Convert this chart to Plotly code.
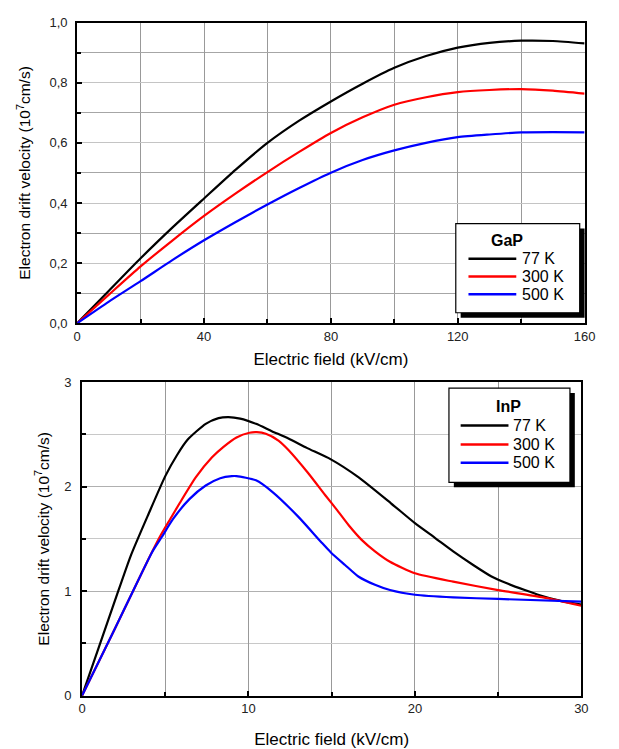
import plotly.graph_objects as go

# ---------------- data ----------------
temps = ["77 K", "300 K", "500 K"]
colors = ["#000000", "#ff0000", "#0000ff"]

# GaP (top panel)
gap_field = [0, 10, 20, 30, 40, 50, 60, 70, 80, 90, 100, 110, 120, 130, 140, 150, 160]
gap_77 = [0, 0.108, 0.216, 0.318, 0.415, 0.511, 0.600, 0.674, 0.738, 0.797, 0.850, 0.889, 0.917, 0.933, 0.940, 0.939, 0.931]
gap_300 = [0, 0.095, 0.189, 0.275, 0.357, 0.432, 0.503, 0.57, 0.633, 0.685, 0.727, 0.752, 0.769, 0.776, 0.779, 0.774, 0.764]
gap_500 = [0, 0.072, 0.14, 0.21, 0.276, 0.337, 0.395, 0.45, 0.501, 0.543, 0.575, 0.60, 0.619, 0.628, 0.635, 0.636, 0.635]

# InP (bottom panel)
inp_field_77 = [0, 1, 2, 2.93, 4, 5, 5.7, 6.35, 7.43, 8.2, 8.8, 9.5, 10.45, 11.4, 12.4, 13.5, 14.95,
                16.6, 18.56, 20, 21.2, 22.3, 23.5, 24.6, 25.6, 26.6, 27.5, 28.5, 29.3, 30]
inp_77 = [0, 0.46, 0.92, 1.34, 1.74, 2.10, 2.30, 2.45, 2.60, 2.655, 2.665, 2.65, 2.60, 2.53, 2.46, 2.37, 2.26,
          2.09, 1.84, 1.65, 1.51, 1.38, 1.25, 1.14, 1.07, 1.01, 0.96, 0.916, 0.89, 0.87]

inp_field_300 = [0, 1, 2, 3, 4, 4.69, 5.3, 5.86, 6.84, 7.81, 8.5, 9.28, 10.06, 10.5, 11.04, 11.8, 12.4, 13.58,
                 14.65, 15.3, 16.02, 16.8, 17.6, 18.5, 20, 22.3, 25, 27.7, 30]
inp_300 = [0, 0.325, 0.65, 0.98, 1.31, 1.525, 1.69, 1.84, 2.09, 2.28, 2.38, 2.47, 2.515, 2.52, 2.505, 2.44, 2.35, 2.13,
           1.91, 1.78, 1.63, 1.49, 1.38, 1.28, 1.17, 1.09, 1.01, 0.94, 0.86]

inp_field_500 = [0, 1, 2, 3, 4.2, 4.8, 5.47, 6.45, 7.43, 8.3, 9.0, 9.28, 10.45, 11.43, 13.0, 14.36, 14.95,
                 15.8, 16.6, 17.6, 18.5, 20, 22.3, 25, 30]
inp_500 = [0, 0.325, 0.65, 0.98, 1.37, 1.52, 1.69, 1.88, 2.01, 2.08, 2.10, 2.10, 2.06, 1.95, 1.71, 1.47, 1.37,
           1.25, 1.14, 1.06, 1.01, 0.965, 0.94, 0.925, 0.90]

x_title = "Electric field (kV/cm)"
y_title = "Electron drift velocity (10<sup>7</sup>cm/s)"
legend_titles = ["GaP", "InP"]

# ---------------- figure ----------------
W, H = 619, 749
fig = go.Figure()

for name, col, vals in zip(temps, colors, [gap_77, gap_300, gap_500]):
    fig.add_trace(go.Scatter(x=gap_field, y=vals, mode="lines", name=name, showlegend=False,
                             line=dict(color=col, width=2.2, shape="spline", smoothing=0.6),
                             xaxis="x", yaxis="y"))

for name, col, xs, vals in zip(temps, colors,
                               [inp_field_77, inp_field_300, inp_field_500],
                               [inp_77, inp_300, inp_500]):
    fig.add_trace(go.Scatter(x=xs, y=vals, mode="lines", name=name, showlegend=False,
                             line=dict(color=col, width=2.2, shape="spline", smoothing=0.6),
                             xaxis="x2", yaxis="y2"))

FONT = "Liberation Sans, Arial, sans-serif"
tickfont = dict(family=FONT, size=13, color="#222")
titlefont = dict(family=FONT, size=17, color="#000")
ytitlefont = dict(family=FONT, size=15.5, color="#000")


def axis_common(major, minor, grid_major, grid_minor):
    return dict(
        showline=True, linecolor="black", linewidth=2, mirror=True,
        ticks="inside", ticklen=5, tickwidth=1.5, tickcolor="black",
        showgrid=True, gridcolor=grid_major, gridwidth=1,
        zeroline=False, tick0=0, dtick=major, tickfont=tickfont,
        minor=dict(dtick=minor, tick0=0, showgrid=True, gridcolor=grid_minor, gridwidth=1,
                   ticks="inside", ticklen=4, tickcolor="black"),
    )


xa = axis_common(40, 20, "#999999", "#999999")
xa.update(domain=[75 / W, 595 / W], anchor="y", range=[0, 160],
          title=dict(text=x_title, font=titlefont, standoff=10))
ya = axis_common(0.2, 0.1, "#c4c4c4", "#a6a6a6")
ya.update(domain=[1 - 322.7 / H, 1 - 16 / H], anchor="x", range=[0, 1], tickformat=".1f",
          ticklabelstandoff=5,
          title=dict(text=y_title, font=ytitlefont, standoff=15))

xa2 = axis_common(10, 5, "#999999", "#999999")
xa2.update(domain=[80 / W, 591.7 / W], anchor="y2", range=[0, 30],
           title=dict(text=x_title, font=titlefont, standoff=19))
ya2 = axis_common(1, 0.5, "#b0b0b0", "#c8c8c8")
ya2.update(domain=[1 - 702.7 / H, 1 - 382.7 / H], anchor="x2", range=[0, 3],
           ticklabelstandoff=6,
           title=dict(text=y_title, font=ytitlefont, standoff=11))

fig.update_layout(
    width=W, height=H, margin=dict(l=0, r=0, t=0, b=0),
    paper_bgcolor="white", plot_bgcolor="white",
    separators=",.",
    font=dict(family=FONT, color="#000"),
    xaxis=xa, yaxis=ya, xaxis2=xa2, yaxis2=ya2,
    showlegend=False,
)

# ---------------- legend boxes (drawn in pixel layout positions) ----------------
def px(x):
    return x / W


def py(y):
    return 1 - y / H


legend_layout = [
    # box, title centre, swatch x-range, text x, row y positions
    dict(box=(463, 221, 590, 312), title=(515, 238), sw=(476, 525), tx=529, rows=(257, 275, 293)),
    dict(box=(456, 389, 580, 485), title=(517, 408), sw=(468, 517), tx=520, rows=(427, 446.5, 465)),
]

legfont = dict(family=FONT, size=16, color="#000")
for title, L in zip(legend_titles, legend_layout):
    x0, y0, x1, y1 = L["box"]
    # shadow
    fig.add_shape(type="rect", xref="paper", yref="paper",
                  x0=px(x0 + 5), x1=px(x1 + 5), y0=py(y1 + 5), y1=py(y0 + 5),
                  fillcolor="black", line=dict(width=0), layer="above")
    # box
    fig.add_shape(type="rect", xref="paper", yref="paper",
                  x0=px(x0), x1=px(x1), y0=py(y1), y1=py(y0),
                  fillcolor="white", line=dict(color="black", width=1.2), layer="above")
    fig.add_annotation(xref="paper", yref="paper", x=px(L["title"][0]), y=py(L["title"][1]),
                       text="<b>%s</b>" % title, showarrow=False, xanchor="center", yanchor="middle",
                       font=legfont)
    for name, col, ry in zip(temps, colors, L["rows"]):
        fig.add_shape(type="line", xref="paper", yref="paper",
                      x0=px(L["sw"][0]), x1=px(L["sw"][1]), y0=py(ry), y1=py(ry),
                      line=dict(color=col, width=2.5), layer="above")
        fig.add_annotation(xref="paper", yref="paper", x=px(L["tx"]), y=py(ry),
                           text=name, showarrow=False, xanchor="left", yanchor="middle",
                           font=legfont)

fig.write_html("out.html")
